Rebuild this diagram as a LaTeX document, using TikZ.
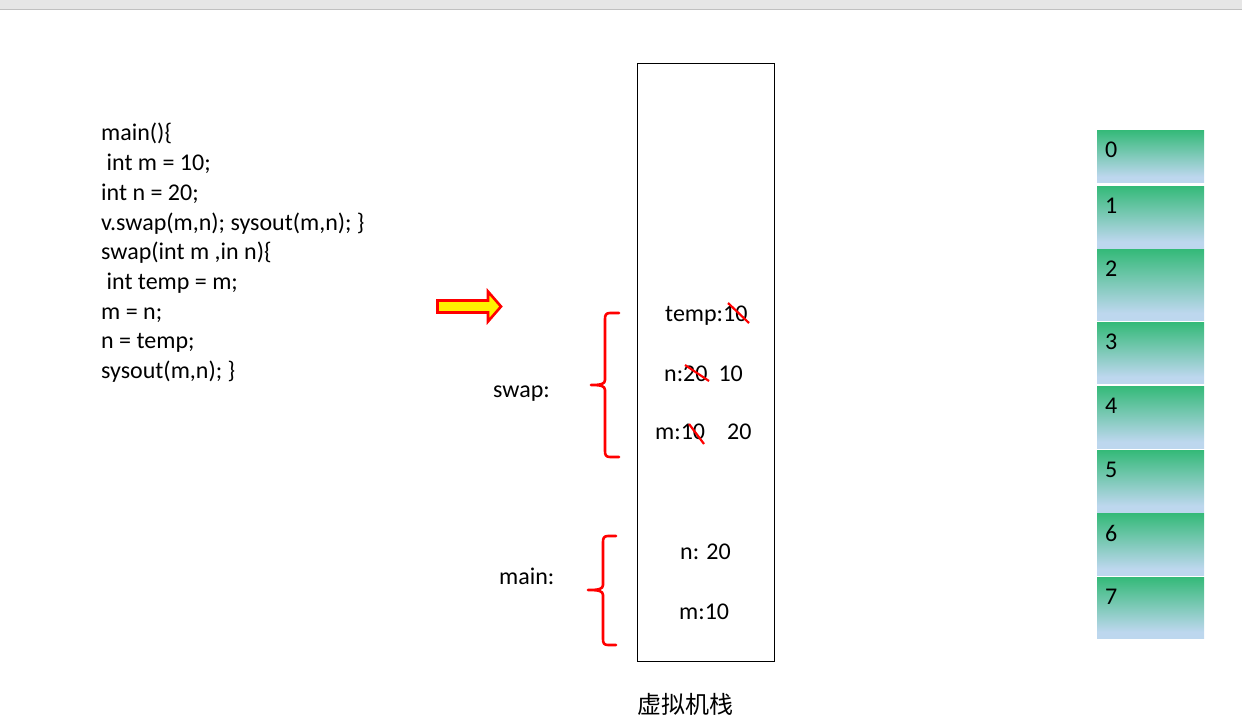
\documentclass[tikz,border=0pt]{standalone}
\usepackage{fontspec}
\setmainfont{Carlito}
\newfontfamily\cjkfont{Noto Sans CJK SC}
\usetikzlibrary{positioning}
\definecolor{cellgreen}{RGB}{12,177,86}
\definecolor{cellblue}{RGB}{189,215,238}
\definecolor{barfill}{RGB}{230,230,230}
\definecolor{barline}{RGB}{192,192,192}
\pgfdeclareverticalshading{cellfade}{100bp}{color(0bp)=(cellblue); color(30bp)=(cellblue); color(88bp)=(cellgreen); color(100bp)=(cellgreen)}
\tikzset{
  txt/.style={inner sep=0pt, font=\fontsize{24}{29.7}\selectfont},
  brace/.style={draw=red, line width=2.6pt, line cap=round, line join=round},
  strike/.style={draw=red, line width=2.2pt},
}

\begin{document}
\begin{tikzpicture}[x=1pt, y=-1pt]
  \useasboundingbox (0,0) rectangle (1242,726);
  % window bar
  \fill[barfill] (0,0) rectangle (1242,9.5);
  \draw[barline, line width=1.5pt] (0,9.5) -- (1242,9.5);

  % source code (base = last line)
  \node[txt, align=left, anchor=base west] (code) at (101,378.5)
    {main()\{\\
     ~int m = 10;\\
     int n = 20;\\
     v.swap(m,n); sysout(m,n); \}\\
     swap(int m ,in n)\{\\
     ~int temp = m;\\
     m = n;\\
     n = temp;\\
     sysout(m,n); \}};

  % arrow
  \draw[red, fill=yellow, line width=2.6pt, line join=miter]
    (437.5,300.5) -- (488,300.5) -- (488,291.5) -- (501,306.5)
    -- (488,321.5) -- (488,312.5) -- (437.5,312.5) -- cycle;

  % stack frame
  \node[draw, line width=1pt, inner sep=0pt, anchor=north west,
        minimum width=137pt, minimum height=598pt] (stack) at (636.5,62.5) {};
  \node[inner sep=0pt, font=\cjkfont\fontsize{24}{24}\selectfont,
        below=32pt of stack, xshift=-20pt] (stacklbl) {虚拟机栈};

  % swap frame
  \node[txt, anchor=base west] (tempv) at (665,321) {temp:10};
  \node[txt, anchor=base west] (nswap) at (664,381) {n:20\hspace{11pt}10};
  \node[txt, anchor=base west] (mswap) at (655,439) {m:10\hspace{22pt}20};
  \draw[strike] (728,303) -- (749,323);
  \draw[strike] (685,365) -- (709,381);
  \draw[strike] (689,424) -- (704,444);

  % main frame
  \node[txt, anchor=base west] (nmain) at (680,559) {n: 20};
  \node[txt, anchor=base west] (mmain) at (679,619) {m:10};

  % braces
  \draw[brace] (619,313) -- (610,313) .. controls (606,313) and (605,315) .. (605,319)
    -- (605,380) .. controls (605,384) and (601,385) .. (591,385)
    .. controls (601,385) and (605,386) .. (605,390)
    -- (605,451) .. controls (605,455) and (606,457) .. (610,457) -- (619,457);
  \draw[brace] (616,536) -- (608,536) .. controls (604,536) and (603,538) .. (603,542)
    -- (603,585) .. controls (603,589) and (599,590) .. (588,590)
    .. controls (599,590) and (603,591) .. (603,595)
    -- (603,639) .. controls (603,643) and (604,645) .. (608,645) -- (616,645);
  \node[txt, anchor=base west] (swaplbl) at (493,397) {swap:};
  \node[txt, anchor=base west] (mainlbl) at (499,584) {main:};

  % memory cells
  \foreach \i/\ytop/\ybot in {0/130/182, 1/186/248, 2/249/320, 3/322/383,
                              4/386/448, 5/450/512, 6/513/575, 7/577/638} {
    \shade[shading=cellfade] (1097,\ytop) rectangle (1204,\ybot);
    \node[txt, anchor=west] (num\i) at (1105,\ytop+20) {\i};
  }
\end{tikzpicture}
\end{document}
